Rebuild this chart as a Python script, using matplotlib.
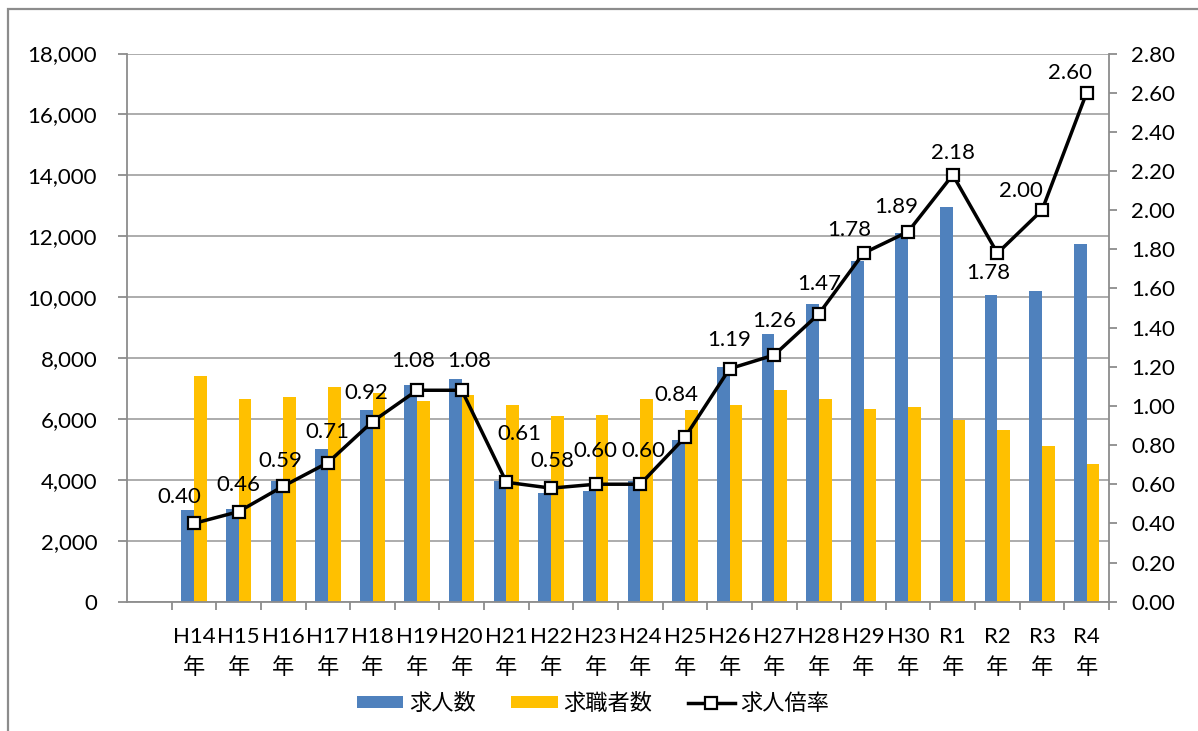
import matplotlib
matplotlib.use('Agg')
from matplotlib import pyplot as plt
from matplotlib.patches import Rectangle
from matplotlib.ticker import FuncFormatter, MultipleLocator, FixedLocator
import numpy as np

plt.rcParams['font.family'] = ['Lato', 'Noto Sans CJK JP', 'DejaVu Sans']

years = ['H14', 'H15', 'H16', 'H17', 'H18', 'H19', 'H20', 'H21', 'H22', 'H23', 'H24',
         'H25', 'H26', 'H27', 'H28', 'H29', 'H30', 'R1', 'R2', 'R3', 'R4']
jobs = [3000, 3030, 3970, 5020, 6300, 7100, 7300, 3970, 3580, 3650, 3960,
        5310, 7720, 8780, 9790, 11200, 12100, 12970, 10060, 10210, 11750]
seekers = [7400, 6660, 6710, 7060, 6860, 6590, 6790, 6460, 6090, 6140, 6650,
           6300, 6460, 6950, 6640, 6330, 6400, 5960, 5640, 5110, 4510]
ratio = [0.40, 0.46, 0.59, 0.71, 0.92, 1.08, 1.08, 0.61, 0.58, 0.60, 0.60,
         0.84, 1.19, 1.26, 1.47, 1.78, 1.89, 2.18, 1.78, 2.00, 2.60]
# label offsets in pixels (dx, dy) from each marker
label_off = [(-15, 26), (0, 27), (-3, 25), (0, 31), (-6, 29), (-4, 29), (7, 29),
             (13, 48), (1, 27), (0, 33), (3, 33), (-9, 42), (0, 29), (0, 34),
             (0, 30), (-14, 23), (-12, 25), (0, 22), (-9, -20), (-21, 19), (-17, 20)]

BLUE = '#4F81BD'
YELLOW = '#FFC000'
GRAY = '#8C8C8C'
FS = 16

fig = plt.figure(figsize=(11.98, 7.31), dpi=100)
ax = fig.add_axes([127/1198, 1-601.7/731, (1109-127)/1198, (601.7-53.5)/731])

x = np.arange(len(years))
w = 0.285
ax.bar(x - w/2, jobs, w, color=BLUE, label='求人数')
ax.bar(x + w/2, seekers, w, color=YELLOW, label='求職者数')

ax.set_xlim(-1.5, len(years) - 0.5)
ax.set_ylim(0, 18000)
ax.yaxis.set_major_locator(MultipleLocator(2000))
ax.yaxis.set_major_formatter(FuncFormatter(lambda v, p: f'{v:,.0f}'))
ax.grid(axis='y', color='#A6A6A6', lw=1.3)
ax.set_axisbelow(True)

ax.xaxis.set_major_locator(FixedLocator(np.arange(-0.5, len(years), 1.0)))
ax.xaxis.set_major_formatter(FuncFormatter(lambda v, p: ''))
ax.xaxis.set_minor_locator(FixedLocator(x))
ax.set_xticklabels([y + '\n年' for y in years], minor=True)
ax.tick_params(axis='x', which='major', direction='out', length=6, width=1.3, color=GRAY)
ax.tick_params(axis='x', which='minor', length=0, pad=18, labelsize=FS)
ax.tick_params(axis='y', direction='out', length=6.5, width=1.3, color=GRAY,
               pad=15, labelsize=FS)
for lab in ax.get_xticklabels(minor=True):
    lab.set_linespacing(1.6)

for s in ['top', 'right']:
    ax.spines[s].set_visible(False)
for s in ['left', 'bottom']:
    ax.spines[s].set_color(GRAY)
    ax.spines[s].set_linewidth(1.3)

ax2 = ax.twinx()
line, = ax2.plot(x, ratio, color='black', lw=2.5, marker='s', ms=9,
                 mfc='white', mec='black', mew=1.6, label='求人倍率', clip_on=False)
ax2.set_ylim(0, 2.8)
ax2.yaxis.set_major_locator(MultipleLocator(0.2))
ax2.yaxis.set_major_formatter(FuncFormatter(lambda v, p: f'{v:.2f}'))
ax2.tick_params(axis='y', direction='out', length=6, width=1.3, color=GRAY,
                pad=10, labelsize=FS)
for s in ['top', 'left', 'bottom']:
    ax2.spines[s].set_visible(False)
ax2.spines['right'].set_color(GRAY)
ax2.spines['right'].set_linewidth(1.3)

for xi, v, (dx, dy) in zip(x, ratio, label_off):
    ax2.annotate(f'{v:.2f}', (xi, v), xytext=(dx, dy), textcoords='offset pixels',
                 ha='center', va='center', fontsize=FS)

h1, l1 = ax.get_legend_handles_labels()
fig.legend(h1 + [line], l1 + ['求人倍率'], loc='center', bbox_to_anchor=(593/1198, 1-703/731),
           ncol=3, frameon=False, fontsize=FS, handlelength=2.1, handleheight=0.45,
           handletextpad=0.25, columnspacing=1.6)

fig.patches.append(Rectangle((8/1198, -0.1), 1.2, 1.1 - 9/731, transform=fig.transFigure,
                             fill=False, edgecolor=GRAY, lw=1.6))

fig.savefig('out.png', dpi=100)
